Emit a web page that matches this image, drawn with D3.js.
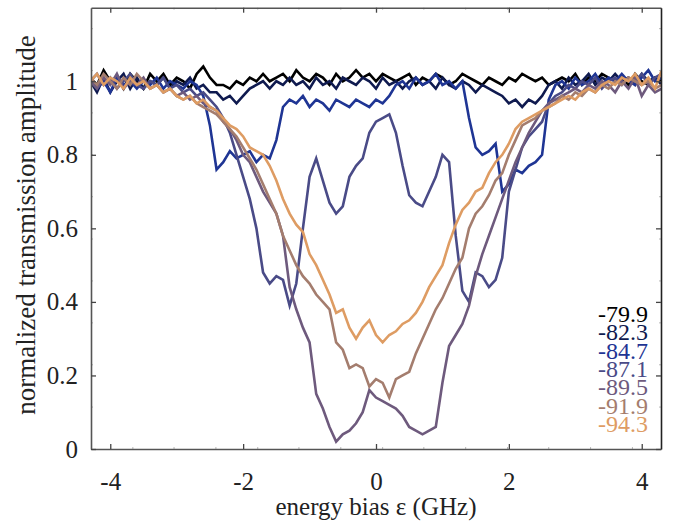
<!DOCTYPE html>
<html>
<head>
<meta charset="utf-8">
<script src="https://cdn.jsdelivr.net/npm/d3@7"></script>
<style>
  body { margin: 0; background: #fff; }
  text { font-family: "Liberation Serif", "Times New Roman", serif; fill: #222; }
</style>
</head>
<body>
<script>
// sample grid of the bias sweep (GHz), step 0.1
const bias = d3.range(87).map(i => +(-4.3 + 0.1 * i).toFixed(1));

const powers = ['-79.9', '-82.3', '-84.7', '-87.1', '-89.5', '-91.9', '-94.3'];
const colors = ['#000000', '#0f1a4f', '#1f3594', '#4a4b87', '#6e5a7d', '#a47d6e', '#de9c63'];

const p799 = [
  1.01, 0.99, 1.03, 1.00, 1.01, 0.98, 1.02, 1.00, 0.98, 1.02,
  1.00, 1.02, 0.99, 1.01, 1.00, 0.98, 1.02, 1.04, 1.01, 0.99,
  0.99, 0.98, 1.00, 0.99, 1.01, 1.00, 1.02, 1.00, 1.01, 1.02,
  1.00, 1.03, 1.01, 1.00, 1.02, 1.01, 0.99, 1.02, 1.00, 1.01,
  1.03, 1.01, 1.02, 1.00, 1.02, 1.01, 1.00, 1.01, 1.02, 0.99,
  1.01, 1.00, 1.02, 1.01, 0.99, 1.00, 1.02, 1.01, 1.00, 0.99,
  1.01, 1.00, 0.99, 1.01, 1.00, 1.02, 1.01, 1.00, 1.01, 0.99,
  1.00, 1.01, 1.00, 1.02, 0.99, 1.01, 1.00, 1.02, 1.01, 1.00,
  1.01, 0.99, 1.02, 1.00, 0.99, 1.01, 1.00];
const p823 = [
  1.00, 0.97, 1.01, 0.97, 1.00, 1.02, 0.98, 1.01, 0.98, 1.00,
  0.99, 1.01, 0.98, 1.00, 0.99, 1.01, 0.98, 0.99, 0.97, 0.97,
  0.95, 0.96, 0.94, 0.96, 0.98, 0.99, 1.00, 0.98, 1.00, 0.99,
  1.01, 0.99, 1.00, 0.98, 1.01, 0.99, 1.00, 0.98, 1.01, 1.00,
  0.99, 1.01, 1.00, 0.98, 1.01, 0.99, 1.00, 0.98, 1.00, 1.01,
  0.99, 1.00, 0.98, 1.01, 0.99, 0.98, 1.00, 0.99, 0.97, 0.99,
  0.98, 0.97, 0.96, 0.94, 0.95, 0.93, 0.95, 0.94, 0.96, 0.99,
  1.00, 0.98, 1.01, 0.99, 1.00, 1.02, 0.99, 1.01, 1.00, 1.02,
  1.00, 1.01, 0.99, 1.02, 1.00, 1.01, 0.99];
const p847 = [
  1.01, 0.98, 1.00, 0.97, 1.01, 0.99, 1.00, 0.98, 1.00, 0.99,
  1.01, 0.98, 1.00, 0.99, 0.98, 1.00, 0.99, 0.96, 0.88, 0.76,
  0.78, 0.81, 0.79, 0.80, 0.81, 0.78, 0.80, 0.79, 0.84, 0.93,
  0.95, 0.94, 0.96, 0.93, 0.95, 0.94, 0.92, 0.95, 0.94, 0.93,
  0.95, 0.94, 0.93, 0.95, 0.94, 0.96, 0.99, 1.00, 0.98, 1.01,
  0.99, 1.00, 1.02, 0.99, 1.00, 0.98, 1.00, 0.90, 0.82, 0.80,
  0.81, 0.83, 0.70, 0.72, 0.76, 0.75, 0.77, 0.78, 0.80, 0.95,
  0.99, 1.00, 0.98, 1.01, 0.99, 1.00, 1.02, 0.99, 1.01, 1.00,
  1.02, 1.00, 0.99, 1.01, 1.03, 1.00, 1.01];
const p871 = [
  1.00, 1.02, 0.99, 1.01, 0.98, 1.00, 1.02, 0.99, 0.98, 1.00,
  0.99, 1.01, 0.98, 0.99, 0.97, 0.98, 0.96, 0.97, 0.95, 0.93,
  0.90, 0.86, 0.80, 0.74, 0.68, 0.60, 0.48, 0.45, 0.47, 0.46,
  0.39, 0.45, 0.60, 0.74, 0.79, 0.73, 0.67, 0.64, 0.66, 0.74,
  0.77, 0.79, 0.86, 0.89, 0.90, 0.91, 0.86, 0.77, 0.69, 0.67,
  0.66, 0.70, 0.74, 0.80, 0.78, 0.58, 0.43, 0.40, 0.48, 0.47,
  0.44, 0.46, 0.52, 0.70, 0.76, 0.82, 0.85, 0.87, 0.89, 0.94,
  0.96, 0.97, 0.99, 0.98, 1.00, 0.99, 1.01, 0.98, 1.00, 1.01,
  0.99, 1.01, 1.00, 1.02, 0.99, 1.01, 1.02];
const p895 = [
  1.00, 0.98, 1.01, 0.99, 1.02, 0.98, 1.00, 0.99, 1.01, 0.98,
  0.99, 0.97, 0.98, 0.96, 0.97, 0.95, 0.96, 0.94, 0.93, 0.92,
  0.89, 0.87, 0.84, 0.80, 0.78, 0.74, 0.70, 0.67, 0.64, 0.58,
  0.44, 0.38, 0.33, 0.29, 0.15, 0.11, 0.06, 0.02, 0.04, 0.05,
  0.07, 0.10, 0.16, 0.14, 0.13, 0.12, 0.11, 0.09, 0.06, 0.05,
  0.04, 0.05, 0.06, 0.18, 0.28, 0.31, 0.34, 0.39, 0.47, 0.53,
  0.58, 0.63, 0.68, 0.73, 0.78, 0.82, 0.86, 0.89, 0.92, 0.94,
  0.95, 0.96, 0.97, 0.98, 0.97, 0.99, 0.98, 1.00, 0.99, 0.97,
  1.00, 0.98, 1.01, 0.96, 0.99, 0.97, 0.98];
const p919 = [
  1.01, 0.99, 1.02, 1.00, 0.98, 1.01, 0.99, 1.02, 1.00, 0.98,
  0.99, 0.97, 0.98, 0.96, 0.95, 0.96, 0.94, 0.93, 0.92, 0.91,
  0.89, 0.87, 0.85, 0.82, 0.79, 0.76, 0.72, 0.68, 0.64, 0.58,
  0.54, 0.50, 0.47, 0.45, 0.42, 0.40, 0.38, 0.29, 0.27, 0.22,
  0.23, 0.22, 0.17, 0.19, 0.18, 0.14, 0.19, 0.20, 0.21, 0.26,
  0.30, 0.34, 0.38, 0.41, 0.45, 0.49, 0.52, 0.60, 0.64, 0.66,
  0.69, 0.73, 0.75, 0.80, 0.84, 0.88, 0.89, 0.90, 0.92, 0.93,
  0.94, 0.96, 0.95, 0.97, 0.96, 0.98, 0.97, 0.99, 0.98, 1.00,
  0.99, 1.01, 1.00, 0.99, 1.00, 0.98, 0.99];
const p943 = [
  1.00, 1.02, 0.99, 1.01, 1.00, 0.98, 1.01, 0.99, 1.00, 0.98,
  0.99, 0.97, 0.98, 0.96, 0.95, 0.96, 0.94, 0.95, 0.93, 0.92,
  0.90, 0.88, 0.87, 0.85, 0.82, 0.81, 0.80, 0.77, 0.73, 0.68,
  0.64, 0.61, 0.59, 0.53, 0.50, 0.46, 0.42, 0.37, 0.38, 0.33,
  0.30, 0.33, 0.35, 0.31, 0.29, 0.31, 0.32, 0.34, 0.35, 0.37,
  0.40, 0.44, 0.47, 0.50, 0.56, 0.61, 0.65, 0.67, 0.70, 0.71,
  0.75, 0.78, 0.80, 0.83, 0.87, 0.89, 0.90, 0.91, 0.92, 0.93,
  0.94, 0.95, 0.96, 0.95, 0.97, 0.98, 0.97, 0.99, 1.00, 0.99,
  1.01, 1.00, 1.02, 0.99, 1.01, 0.98, 1.03];

const series = [p799, p823, p847, p871, p895, p919, p943];

const xTicks = [-4, -2, 0, 2, 4];
const yTicks = [0, 0.2, 0.4, 0.6, 0.8, 1];
// faint minor ticks of the original figure
const xMinor = [-3.66, -3.04, -2.41, -1.78, -1.16, -0.53, 0.10, 0.72, 1.35, 1.98, 2.60, 3.23, 3.86];
const yMinor = [0.114, 0.229, 0.343, 0.457, 0.571, 0.686, 0.800, 0.914, 1.029, 1.143];

const W = 679, H = 523;
const svg = d3.select('body').append('svg').attr('width', W).attr('height', H);

const x = d3.scaleLinear().domain([-4.29, 4.29]).range([91, 661]);
const y = d3.scaleLinear().domain([0, 1.2]).range([449, 7.7]);

svg.append('clipPath').attr('id', 'clip')
  .append('rect').attr('x', 91).attr('y', 7.7).attr('width', 570).attr('height', 441.3);

// curves
const line = d3.line().x((d, i) => x(bias[i])).y(d => y(d));
svg.append('g').attr('clip-path', 'url(#clip)')
  .selectAll('path').data(series).join('path')
  .attr('d', line)
  .attr('fill', 'none')
  .attr('stroke', (d, i) => colors[i])
  .attr('stroke-width', 2.6)
  .attr('stroke-linejoin', 'miter');

// minor ticks
const minor = svg.append('g').attr('stroke', '#b8b8b8').attr('stroke-width', 1);
xMinor.forEach(v => {
  minor.append('line').attr('x1', x(v)).attr('x2', x(v)).attr('y1', y(0)).attr('y2', y(0) - 2);
  minor.append('line').attr('x1', x(v)).attr('x2', x(v)).attr('y1', y(1.2)).attr('y2', y(1.2) + 2);
});
yMinor.forEach(v => {
  minor.append('line').attr('y1', y(v)).attr('y2', y(v)).attr('x1', x(-4.29)).attr('x2', x(-4.29) + 2);
  minor.append('line').attr('y1', y(v)).attr('y2', y(v)).attr('x1', x(4.29)).attr('x2', x(4.29) - 2);
});

// axes
const fmt = d => String(d);
const gx = svg.append('g').attr('transform', `translate(0,${y(0)})`)
  .call(d3.axisBottom(x).tickValues(xTicks).tickFormat(fmt).tickSize(-5).tickSizeOuter(0).tickPadding(23));
const gxt = svg.append('g').attr('transform', `translate(0,${y(1.2)})`)
  .call(d3.axisTop(x).tickValues(xTicks).tickFormat('').tickSize(-5).tickSizeOuter(0));
const gy = svg.append('g').attr('transform', `translate(${x(-4.29)},0)`)
  .call(d3.axisLeft(y).tickValues(yTicks).tickFormat(fmt).tickSize(-5).tickSizeOuter(0).tickPadding(13));
const gyr = svg.append('g').attr('transform', `translate(${x(4.29)},0)`)
  .call(d3.axisRight(y).tickValues(yTicks).tickFormat('').tickSize(-5).tickSizeOuter(0));

[gx, gxt, gy, gyr].forEach(g => {
  g.select('.domain').attr('stroke', '#555').attr('stroke-width', 1.6);
  g.selectAll('.tick line').attr('stroke', '#444').attr('stroke-width', 1.3);
  g.selectAll('.tick text').attr('font-size', 25).attr('fill', '#222')
    .style('font-family', '"Liberation Serif", "Times New Roman", serif');
});
gyr.select('.domain').attr('stroke', '#222');

// axis labels
svg.append('text')
  .attr('x', 376).attr('y', 515)
  .attr('text-anchor', 'middle').attr('font-size', 25)
  .text('energy bias ε (GHz)');
svg.append('text')
  .attr('transform', 'translate(35,225) rotate(-90)')
  .attr('text-anchor', 'middle').attr('font-size', 27)
  .text('normalized transmission amplitude');

// legend
svg.append('g').selectAll('text').data(powers).join('text')
  .attr('x', 648)
  .attr('y', (d, i) => 322 + i * 18.3)
  .attr('text-anchor', 'end')
  .attr('font-size', 24)
  .style('fill', (d, i) => colors[i])
  .text(d => d);
</script>
</body>
</html>
